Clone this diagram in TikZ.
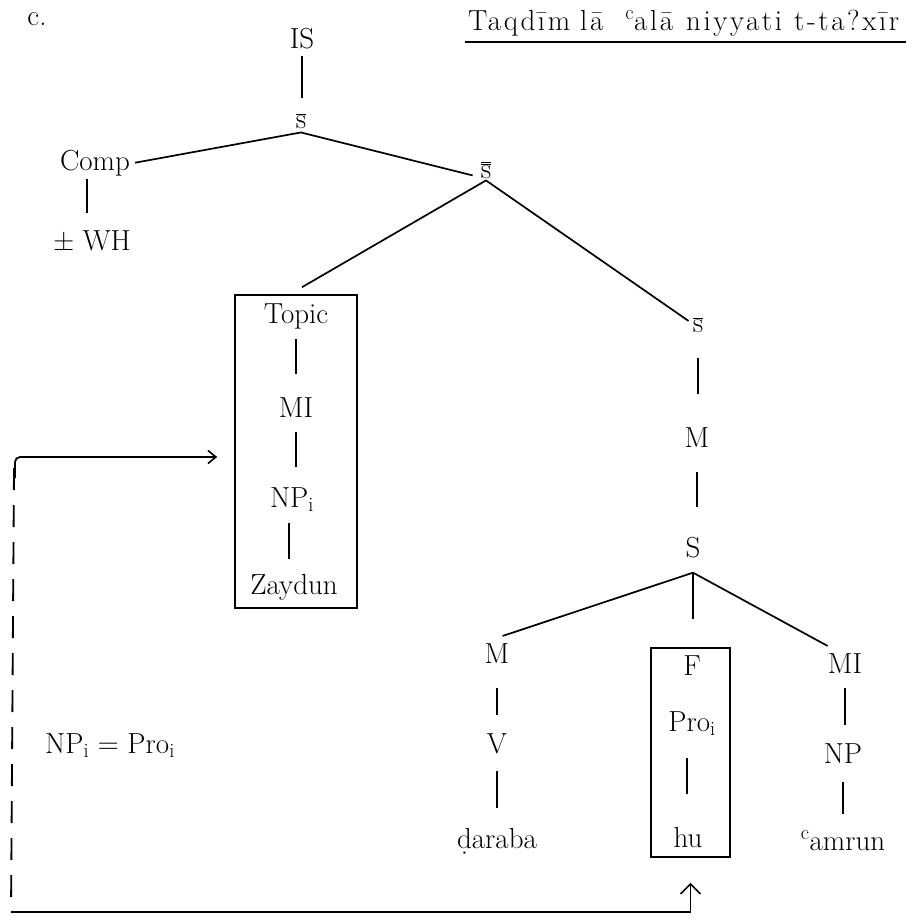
\RequirePackage{fix-cm}
\documentclass[tikz,border=0pt]{standalone}
\usepackage{fontspec}
\newfontfamily\spacedfont{Latin Modern Roman}[LetterSpace=9]
\usetikzlibrary{arrows.meta}
\begin{document}
\begin{tikzpicture}[x=1pt,y=-1pt,
  every node/.style={font=\fontsize{29}{34}\selectfont, inner sep=0pt, anchor=base},
  branch/.style={line width=1.7pt},
  frame/.style={draw, line width=1.6pt, anchor=center},
  link/.style={line width=1.8pt},
  bigtip/.style={-{Straight Barb[length=10pt,width=20pt,line width=1.6pt]}},
  smalltip/.style={-{Straight Barb[length=8pt,width=13pt,line width=1.6pt]}}]
\useasboundingbox (0,0) rectangle (912,922);

% heading
\node (lab) at (37,25) {c.};
\node[anchor=base west, font=\spacedfont\fontsize{29}{34}\selectfont] (title) at (468,30)
  {Taqdīm\hspace{10pt}lā\hspace{22pt}\textsuperscript{c}alā\hspace{13pt}niyyati\hspace{12pt}t-ta?xīr};
\draw[line width=1.5pt] ([xshift=-3pt,yshift=-12pt]title.base west) -- ([xshift=7pt,yshift=-12pt]title.base east);

% upper tree
\node (is) at (302,48) {IS};
\node (sb1) at (301,128) {$\overline{\mathrm{s}}$};
\node (comp) at (95,170) {Comp};
\node (wh) at (92,250) {± WH};
\node (sbb) at (486,178) {$\overline{\overline{\mathrm{s}}}$};

% topic column
\node (topic) at (296,323) {Topic};
\node (mi1) at (296,417) {MI};
\node (np1) at (292,507) {NP$_{\mathrm{i}}$};
\node (zaydun) at (294,594) {Zaydun};
\node[frame, minimum width=122pt, minimum height=313pt] (tbox) at (296,451.5) {};

% right column
\node (sb2) at (698,332) {$\overline{\mathrm{s}}$};
\node (m1) at (697,447) {M};
\node (s) at (693,557) {S};

% lowest level
\node (m2) at (497,663) {M};
\node (v) at (497,753) {V};
\node (daraba) at (497,848) {ḍaraba};
\node (f) at (692,675) {F};
\node (pro) at (692,731) {Pro$_{\mathrm{i}}$};
\node (hu) at (688,847) {hu};
\node[frame, minimum width=79pt, minimum height=209pt] (fbox) at (690.5,752.5) {};
\node (mi2) at (845,673) {MI};
\node (np2) at (843,763) {NP};
\node (amrun) at (843,850) {\textsuperscript{c}amrun};

\node[anchor=base west] (eq) at (45,753) {NP$_{\mathrm{i}}$ = Pro$_{\mathrm{i}}$};

% branches
\coordinate (sb1foot) at ([yshift=-4pt]sb1.south);
\coordinate (sbbfoot) at ([yshift=-2pt]sbb.south);
\coordinate (sfoot) at ([yshift=-15pt]s.south);
\coordinate (fboxtop) at ([yshift=28pt]fbox.north);

\draw[branch, shorten <=7pt, shorten >=15pt] (is.south) -- (is.south |- sb1.north);
\draw[branch] (sb1foot) -- ([xshift=5pt]comp.east);
\draw[branch] (sb1foot) -- ([xshift=-8pt,yshift=3pt]sbb.south west);
\draw[branch] ([xshift=-8pt,yshift=-3pt]comp.south) -- ([xshift=-5pt,yshift=17pt]wh.north);
\draw[branch] (sbbfoot) -- ([xshift=6pt,yshift=7pt]tbox.north);
\draw[branch] (sbbfoot) -- ([xshift=-4pt,yshift=-4pt]sb2.north west);

\draw[branch, shorten <=10pt, shorten >=23pt] (topic.south) -- (topic.south |- mi1.north);
\draw[branch, shorten <=15pt, shorten >=20pt] (mi1.south) -- (mi1.south |- np1.north);
\draw[branch, shorten <=11pt, shorten >=15pt] ([xshift=-3pt]np1.south) -- ([xshift=-3pt]np1.south |- zaydun.north);

\draw[branch, shorten <=26pt, shorten >=33pt] (sb2.south) -- (sb2.south |- m1.north);
\draw[branch, shorten <=25pt, shorten >=30pt] (m1.south) -- (m1.south |- s.north);

\draw[branch] (sfoot) -- ([xshift=-7pt,yshift=7pt]m2.north east);
\draw[branch] (sfoot) -- (sfoot |- fboxtop);
\draw[branch] (sfoot) -- ([yshift=7pt]mi2.north west);

\draw[branch, shorten <=25pt, shorten >=18pt] (m2.south) -- (m2.south |- v.north);
\draw[branch, shorten <=17pt, shorten >=20pt] (v.south) -- (v.south |- daraba.north);
\draw[branch, shorten <=22pt, shorten >=33pt] ([xshift=-5pt]pro.south) -- ([xshift=-5pt]pro.south |- hu.north);
\draw[branch, shorten <=15pt, shorten >=18pt] (mi2.south) -- (mi2.south |- np2.north);
\draw[branch, shorten <=19pt, shorten >=16pt] (np2.south) -- (np2.south |- amrun.north);

% coindexing link from the pronoun back to the topic
\coordinate (cornerbl) at (11,912);
\coordinate (dashtop) at (14,468);
\coordinate (linkstart) at (15,478);
\coordinate (arrowend) at ([xshift=-17pt,yshift=-5.5pt]tbox.west);
\draw[link, bigtip] (cornerbl) -| ([yshift=-25pt]fbox.south);
\draw[link, dash pattern=on 22pt off 15pt] (dashtop) -- (cornerbl);
\draw[link, smalltip, rounded corners=5pt] (linkstart) |- (arrowend);
\end{tikzpicture}
\end{document}
